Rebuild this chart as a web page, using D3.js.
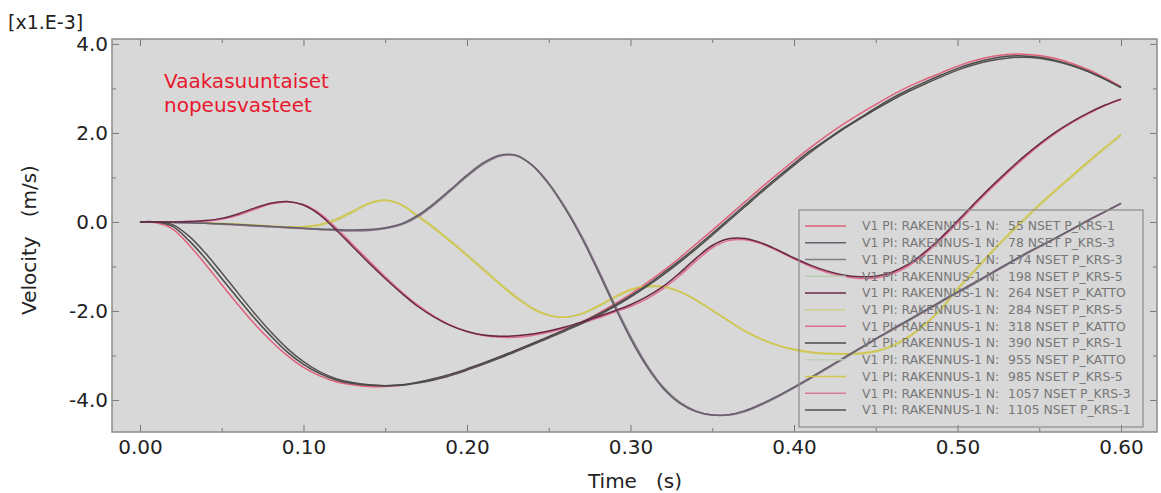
<!DOCTYPE html>
<html>
<head>
<meta charset="utf-8">
<script src="https://cdn.jsdelivr.net/npm/d3@7"></script>
<style>
  body { margin: 0; background: #fff; }
  svg { display: block; font-family: "DejaVu Sans", Verdana, sans-serif; }
</style>
</head>
<body>
<svg id="chart" width="1161" height="493"></svg>
<script>
// time grid, seconds
var time = [0.00, 0.01, 0.02, 0.03, 0.04, 0.05, 0.06, 0.07, 0.08, 0.09,
            0.10, 0.11, 0.12, 0.13, 0.14, 0.15, 0.16, 0.17, 0.18, 0.19,
            0.20, 0.21, 0.22, 0.23, 0.24, 0.25, 0.26, 0.27, 0.28, 0.29,
            0.30, 0.31, 0.32, 0.33, 0.34, 0.35, 0.36, 0.37, 0.38, 0.39,
            0.40, 0.41, 0.42, 0.43, 0.44, 0.45, 0.46, 0.47, 0.48, 0.49,
            0.50, 0.51, 0.52, 0.53, 0.54, 0.55, 0.56, 0.57, 0.58, 0.59, 0.60];

// velocities in 1e-3 m/s
var deepA = [0, 0, -0.1, -0.42, -0.82, -1.27, -1.72, -2.16, -2.56, -2.92,
  -3.2, -3.41, -3.55, -3.63, -3.67, -3.68, -3.66, -3.6, -3.52, -3.42,
  -3.3, -3.17, -3.03, -2.88, -2.73, -2.58, -2.42, -2.26, -2.08, -1.88,
  -1.66, -1.42, -1.15, -0.87, -0.57, -0.26, 0.06, 0.38, 0.7, 1.01,
  1.31, 1.6, 1.85, 2.1, 2.33, 2.56, 2.78, 2.97, 3.14, 3.3,
  3.45, 3.57, 3.66, 3.72, 3.73, 3.7, 3.63, 3.52, 3.38, 3.21, 3.02];
var deepB = [0, 0, -0.06, -0.32, -0.7, -1.14, -1.6, -2.05, -2.47, -2.84,
  -3.14, -3.37, -3.52, -3.61, -3.66, -3.68, -3.67, -3.62, -3.55, -3.45,
  -3.33, -3.2, -3.06, -2.91, -2.76, -2.61, -2.45, -2.29, -2.11, -1.91,
  -1.69, -1.45, -1.19, -0.91, -0.61, -0.3, 0.02, 0.34, 0.66, 0.97,
  1.27, 1.56, 1.83, 2.08, 2.31, 2.53, 2.74, 2.93, 3.1, 3.26,
  3.41, 3.53, 3.62, 3.68, 3.7, 3.68, 3.61, 3.51, 3.38, 3.21, 3.02];
var deepC = [0, -0.02, -0.16, -0.52, -0.95, -1.41, -1.86, -2.29, -2.67, -3.0,
  -3.27, -3.46, -3.59, -3.66, -3.7, -3.7, -3.67, -3.61, -3.53, -3.43,
  -3.31, -3.18, -3.04, -2.89, -2.74, -2.58, -2.42, -2.25, -2.06, -1.85,
  -1.62, -1.37, -1.1, -0.81, -0.5, -0.19, 0.13, 0.45, 0.77, 1.08,
  1.38, 1.67, 1.94, 2.19, 2.42, 2.64, 2.85, 3.04, 3.2, 3.35,
  3.5, 3.62, 3.71, 3.76, 3.77, 3.74, 3.67, 3.56, 3.42, 3.24, 3.04];
var midA = [0, 0, 0, 0.01, 0.03, 0.08, 0.18, 0.31, 0.42, 0.46,
  0.38, 0.16, -0.18, -0.55, -0.92, -1.27, -1.6, -1.9, -2.14, -2.33,
  -2.46, -2.54, -2.57, -2.56, -2.52, -2.45, -2.36, -2.25, -2.13, -2.0,
  -1.86, -1.68, -1.45, -1.15, -0.82, -0.53, -0.38, -0.37, -0.47, -0.63,
  -0.81, -0.97, -1.1, -1.19, -1.23, -1.22, -1.13, -0.95, -0.68, -0.35,
  0.02, 0.4, 0.77, 1.12, 1.45, 1.75, 2.02, 2.25, 2.45, 2.62, 2.76];
var midB = [0, 0, 0, 0.01, 0.02, 0.06, 0.15, 0.28, 0.4, 0.45,
  0.39, 0.19, -0.13, -0.5, -0.87, -1.23, -1.57, -1.87, -2.12, -2.32,
  -2.46, -2.55, -2.59, -2.59, -2.55, -2.48, -2.39, -2.28, -2.16, -2.03,
  -1.9, -1.73, -1.5, -1.21, -0.88, -0.58, -0.42, -0.4, -0.49, -0.65,
  -0.83, -1.0, -1.13, -1.22, -1.27, -1.26, -1.17, -0.99, -0.72, -0.39,
  -0.02, 0.36, 0.73, 1.08, 1.41, 1.72, 1.99, 2.23, 2.43, 2.61, 2.75];
var dipA = [0, 0, -0.01, -0.02, -0.03, -0.04, -0.06, -0.08, -0.1, -0.12,
  -0.14, -0.16, -0.17, -0.18, -0.17, -0.13, -0.04, 0.15, 0.42, 0.73,
  1.05, 1.33, 1.5, 1.5, 1.27, 0.85, 0.3, -0.35, -1.1, -1.88,
  -2.62, -3.25, -3.74, -4.07, -4.26, -4.34, -4.33, -4.24, -4.09, -3.91,
  -3.71, -3.5, -3.28, -3.06, -2.84, -2.62, -2.41, -2.2, -1.99, -1.78,
  -1.57, -1.37, -1.16, -0.95, -0.74, -0.55, -0.36, -0.16, 0.04, 0.23, 0.42];
var dipB = [0, 0, -0.01, -0.02, -0.03, -0.05, -0.07, -0.09, -0.11, -0.13,
  -0.15, -0.17, -0.19, -0.2, -0.19, -0.15, -0.06, 0.12, 0.39, 0.7,
  1.02, 1.3, 1.48, 1.49, 1.27, 0.87, 0.33, -0.31, -1.05, -1.83,
  -2.57, -3.21, -3.71, -4.05, -4.25, -4.34, -4.34, -4.26, -4.11, -3.93,
  -3.73, -3.52, -3.3, -3.08, -2.86, -2.64, -2.43, -2.22, -2.01, -1.8,
  -1.59, -1.39, -1.18, -0.97, -0.76, -0.56, -0.37, -0.17, 0.03, 0.22, 0.41];
var krs5A = [0, 0, 0, -0.01, -0.02, -0.03, -0.05, -0.07, -0.09, -0.11,
  -0.11, -0.06, 0.06, 0.24, 0.42, 0.49, 0.38, 0.12, -0.15, -0.45,
  -0.76, -1.08, -1.4, -1.7, -1.95, -2.1, -2.14, -2.06, -1.89, -1.69,
  -1.52, -1.44, -1.45, -1.56, -1.75, -1.98, -2.22, -2.45, -2.63, -2.77,
  -2.86, -2.92, -2.95, -2.96, -2.95, -2.9, -2.78, -2.58, -2.3, -1.95,
  -1.5, -1.1, -0.7, -0.32, 0.04, 0.39, 0.72, 1.04, 1.36, 1.67, 1.97];
var krs5B = [0, 0, 0, -0.01, -0.02, -0.04, -0.06, -0.08, -0.1, -0.12,
  -0.12, -0.08, 0.03, 0.21, 0.4, 0.48, 0.39, 0.14, -0.12, -0.42,
  -0.73, -1.05, -1.37, -1.67, -1.93, -2.09, -2.14, -2.07, -1.91, -1.71,
  -1.54, -1.46, -1.46, -1.57, -1.76, -1.99, -2.23, -2.46, -2.64, -2.78,
  -2.88, -2.94, -2.97, -2.98, -2.97, -2.92, -2.8, -2.6, -2.32, -1.97,
  -1.53, -1.13, -0.73, -0.35, 0.01, 0.36, 0.69, 1.01, 1.33, 1.64, 1.94];

// legend entries, in legend order
var nodeIds = [55, 78, 174, 198, 264, 284, 318, 390, 955, 985, 1057, 1105];
var nodeSets = ["P_KRS-1", "P_KRS-3", "P_KRS-3", "P_KRS-5", "P_KATTO", "P_KRS-5",
                "P_KATTO", "P_KRS-1", "P_KATTO", "P_KRS-5", "P_KRS-3", "P_KRS-1"];
var seriesValues = [deepC, dipA, dipB, krs5B, midA, krs5B, midB, deepA, midA, krs5A, dipB, deepB];
var seriesColors = ["#e0607a", "#675e6c", "#7d8088", "#b8ccb4", "#6a2848", "#cfcf8c",
                    "#e06c94", "#4a4a4a", "#bfcfb8", "#d2c64a", "#d97a96", "#565050"];

var xTicks = [0.0, 0.1, 0.2, 0.3, 0.4, 0.5, 0.6];
var xMinor = [0.05, 0.15, 0.25, 0.35, 0.45, 0.55];
var yTicks = [-4, -2, 0, 2, 4];
var yMinor = [-3, -1, 1, 3];

window.onload = function(){
    var svg = d3.select("#chart");
    var plot = {x0: 112, x1: 1157, y0: 39, y1: 432};

    var x = d3.scaleLinear().domain([-0.0171, 0.622]).range([plot.x0, plot.x1]);
    var y = d3.scaleLinear().domain([-4.72, 4.11]).range([plot.y1, plot.y0]);

    svg.append("rect")
        .attr("x", plot.x0).attr("y", plot.y0)
        .attr("width", plot.x1 - plot.x0).attr("height", plot.y1 - plot.y0)
        .attr("fill", "#d8d8d8");

    svg.append("clipPath").attr("id", "clip")
        .append("rect")
        .attr("x", plot.x0).attr("y", plot.y0)
        .attr("width", plot.x1 - plot.x0).attr("height", plot.y1 - plot.y0);

    var series = nodeIds.map(function(id, i) {
        return {id: id, set: nodeSets[i], color: seriesColors[i],
                points: time.map(function(t, j) { return [t, seriesValues[i][j]]; })};
    });

    var line = d3.line()
        .x(function(d) { return x(d[0]); })
        .y(function(d) { return y(d[1]); })
        .curve(d3.curveCatmullRom.alpha(0.5));

    // pale curves underneath, dark ones on top
    var drawOrder = series.slice().sort(function(a, b) {
        return d3.hsl(b.color).l - d3.hsl(a.color).l;
    });

    svg.append("g").attr("clip-path", "url(#clip)")
        .selectAll("path")
        .data(drawOrder)
        .enter().append("path")
        .attr("d", function(d) { return line(d.points); })
        .attr("fill", "none")
        .attr("stroke", function(d) { return d.color; })
        .attr("stroke-width", 1.5);

    // axes, ticks pointing inward
    function noDomain(g) { g.select(".domain").remove(); }
    var tickColor = "#777";

    svg.append("g").attr("transform", "translate(0," + plot.y1 + ")")
        .call(d3.axisBottom(x).tickValues(xTicks).tickSize(-7).tickPadding(8)
            .tickFormat(function(d) { return d.toFixed(2); }))
        .call(noDomain);
    svg.append("g").attr("transform", "translate(0," + plot.y1 + ")")
        .call(d3.axisBottom(x).tickValues(xMinor).tickSize(-4).tickFormat(""))
        .call(noDomain);
    svg.append("g").attr("transform", "translate(0," + plot.y0 + ")")
        .call(d3.axisTop(x).tickValues(xTicks).tickSize(-7).tickFormat(""))
        .call(noDomain);
    svg.append("g").attr("transform", "translate(0," + plot.y0 + ")")
        .call(d3.axisTop(x).tickValues(xMinor).tickSize(-4).tickFormat(""))
        .call(noDomain);

    svg.append("g").attr("transform", "translate(" + plot.x0 + ",0)")
        .call(d3.axisLeft(y).tickValues(yTicks).tickSize(-7).tickPadding(4)
            .tickFormat(function(d) { return d.toFixed(1); }))
        .call(noDomain);
    svg.append("g").attr("transform", "translate(" + plot.x0 + ",0)")
        .call(d3.axisLeft(y).tickValues(yMinor).tickSize(-4).tickFormat(""))
        .call(noDomain);
    svg.append("g").attr("transform", "translate(" + plot.x1 + ",0)")
        .call(d3.axisRight(y).tickValues(yTicks).tickSize(-7).tickFormat(""))
        .call(noDomain);
    svg.append("g").attr("transform", "translate(" + plot.x1 + ",0)")
        .call(d3.axisRight(y).tickValues(yMinor).tickSize(-4).tickFormat(""))
        .call(noDomain);

    svg.selectAll(".tick line").attr("stroke", tickColor);
    svg.selectAll(".tick text")
        .attr("font-family", "DejaVu Sans, Verdana, sans-serif")
        .attr("font-size", 20)
        .attr("fill", "#222");

    svg.append("rect")
        .attr("x", plot.x0).attr("y", plot.y0)
        .attr("width", plot.x1 - plot.x0).attr("height", plot.y1 - plot.y0)
        .attr("fill", "none").attr("stroke", "#8c8c8c").attr("stroke-width", 1.5);

    // titles
    svg.append("text").attr("x", 8).attr("y", 29)
        .attr("font-size", 19).attr("fill", "#222")
        .text("[x1.E-3]");

    svg.append("text")
        .attr("transform", "translate(36,240) rotate(-90)")
        .attr("text-anchor", "middle").attr("font-size", 20).attr("fill", "#222")
        .style("white-space", "pre")
        .text("Velocity   (m/s)");

    svg.append("text").attr("x", 635).attr("y", 488)
        .attr("text-anchor", "middle").attr("font-size", 20).attr("fill", "#222")
        .style("white-space", "pre")
        .text("Time   (s)");

    var note = svg.append("text").attr("font-size", 20).attr("fill", "#e8182e");
    note.append("tspan").attr("x", 164).attr("y", 88).text("Vaakasuuntaiset");
    note.append("tspan").attr("x", 164).attr("y", 112).text("nopeusvasteet");

    // legend
    var legend = svg.append("g");
    legend.append("rect")
        .attr("x", 799).attr("y", 210).attr("width", 344).attr("height", 217)
        .attr("fill", "none").attr("stroke", "#8c8c8c").attr("stroke-width", 1.2);

    var rowY = d3.scaleLinear().domain([0, nodeIds.length - 1]).range([226, 410]);
    var row = legend.selectAll(".row")
        .data(series)
        .enter().append("g")
        .attr("class", "row")
        .attr("transform", function(d, i) { return "translate(0," + rowY(i) + ")"; });

    row.append("line")
        .attr("x1", 805).attr("x2", 846)
        .attr("stroke", function(d) { return d.color; })
        .attr("stroke-width", 1.5);
    row.append("text")
        .attr("x", 862).attr("dy", "0.35em")
        .attr("font-size", 12.4).attr("fill", "#777")
        .text("V1 PI: RAKENNUS-1 N:");
    row.append("text")
        .attr("x", 1008).attr("dy", "0.35em")
        .attr("font-size", 12.4).attr("fill", "#777")
        .text(function(d) { return d.id + " NSET " + d.set; });
};
</script>
</body>
</html>
